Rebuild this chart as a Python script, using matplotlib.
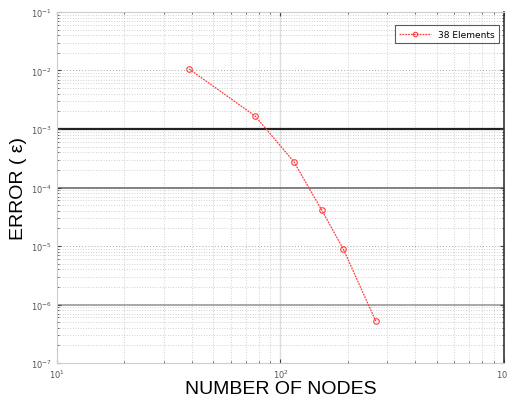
import matplotlib
matplotlib.use("Agg")
import matplotlib.pyplot as plt
from matplotlib.ticker import LogLocator, NullFormatter, LogFormatterMathtext

nodes = [39, 77, 115, 153, 191, 267]
error = [1.06e-2, 1.67e-3, 2.73e-4, 4.1e-5, 8.9e-6, 5.2e-7]
series_label = "38 Elements"

fig = plt.figure(figsize=(5.07, 4.06), dpi=100)
ax = fig.add_axes([0.1124, 0.1034, 0.8816, 0.8646])

ax.loglog(nodes, error, color="#ff4040", lw=0.9, ls="--", dashes=(1.5, 0.8),
          marker="o", ms=4, mfc="none", mec="#ff4040", mew=0.8, label=series_label)

ax.set_xlim(10, 1000)
ax.set_ylim(1e-7, 1e-1)

ax.xaxis.set_major_locator(LogLocator(base=10, numticks=10))
ax.yaxis.set_major_locator(LogLocator(base=10, numticks=10))
ax.xaxis.set_minor_locator(LogLocator(base=10, subs=range(2, 10), numticks=20))
ax.yaxis.set_minor_locator(LogLocator(base=10, subs=range(2, 10), numticks=20))
ax.xaxis.set_minor_formatter(NullFormatter())
ax.yaxis.set_minor_formatter(NullFormatter())
ax.xaxis.set_major_formatter(LogFormatterMathtext())
ax.yaxis.set_major_formatter(LogFormatterMathtext())

ax.grid(True, which="major", color="#999999", ls=(0, (1.2, 2.5)), lw=0.6)
ax.grid(True, which="minor", color="#b5b5b5", ls=(0, (1.2, 2.5)), lw=0.5)

fig.canvas.draw()
# raster-like emphasis on some decade grid lines seen in the reference
styles = {1e-3: ("#222222", 1.6), 1e-4: ("#777777", 1.3), 1e-6: ("#999999", 1.2)}
for tick in ax.yaxis.get_major_ticks():
    loc = tick.get_loc()
    for key, (c, w) in styles.items():
        if abs(loc - key) / key < 1e-6:
            tick.gridline.set_linestyle("-")
            tick.gridline.set_color(c)
            tick.gridline.set_linewidth(w)
for tick in ax.xaxis.get_major_ticks():
    if abs(tick.get_loc() - 100) < 1e-6:
        tick.gridline.set_linestyle("-")
        tick.gridline.set_color("#dddddd")
        tick.gridline.set_linewidth(1.0)

ax.tick_params(which="both", direction="in", labelsize=6, labelcolor="#555555",
               color="#444444", top=True, right=True)
ax.tick_params(which="major", length=3)
ax.tick_params(which="minor", length=1.5)

for s in ["left", "top", "bottom"]:
    ax.spines[s].set_color("#cccccc")
    ax.spines[s].set_linewidth(0.8)
ax.spines["right"].set_color("#333333")
ax.spines["right"].set_linewidth(1.2)

ax.set_xlabel("NUMBER OF NODES", fontsize=14, family="Liberation Sans", labelpad=0)
ax.set_ylabel("ERROR ( ε)", fontsize=14, family="Liberation Sans", labelpad=3)

leg = ax.legend(loc="upper right", fontsize=6.5, frameon=True, fancybox=False,
                borderpad=0.5, handlelength=3.5, markerscale=0.8,
                bbox_to_anchor=(1.0, 0.975))
leg.get_frame().set_edgecolor("#333333")
leg.get_frame().set_linewidth(0.8)

fig.savefig("out.png", dpi=100)
